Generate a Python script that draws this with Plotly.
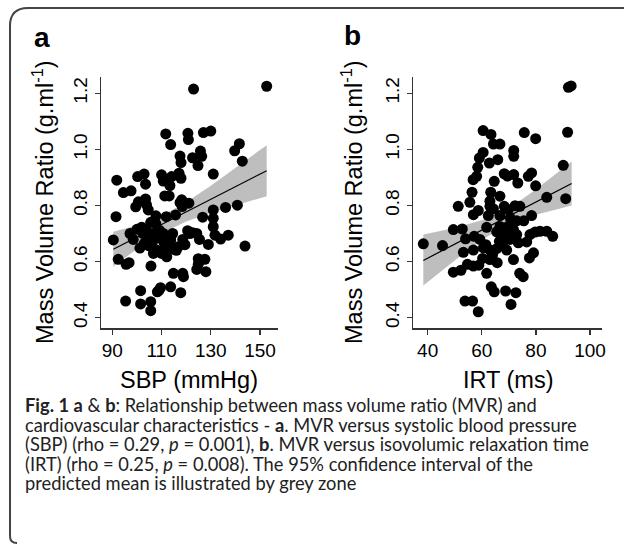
import plotly.graph_objects as go

# ---------------- data: panel a (SBP vs MVR) ----------------
sbp = [123.0, 152.7, 111.7, 120.7, 120.9, 127.0, 130.0, 113.7, 141.6, 139.7, 142.8,
       117.5, 117.9, 122.6, 125.8, 124.8, 126.3, 131.0,
       91.8, 100.3, 102.9, 103.5, 110.0, 110.7, 114.1, 113.4, 117.1, 117.9,
       94.5, 97.6,
       91.5, 99.5, 100.6, 103.5, 103.9, 104.6, 107.7,
       111.3, 113.1, 111.9, 115.7, 117.5, 118.4, 121.1, 118.2,
       126.7, 131.0, 131.0, 131.0, 131.7, 136.0, 140.8,
       90.4, 97.2, 98.5, 101.9, 103.9, 101.2, 104.9,
       105.6, 107.7, 109.1, 110.7, 112.1, 113.7, 108.0, 106.0,
       106.7, 108.0, 110.0, 111.4, 112.1, 112.8, 114.8, 116.8,
       118.6, 120.6, 122.6, 125.4, 124.3, 129.0, 134.0, 137.1, 143.9,
       92.4, 95.6, 96.8, 105.7, 114.8, 118.6, 118.9,
       124.9, 127.6, 124.9, 124.3, 128.0,
       95.4, 101.5, 101.5, 105.6, 105.6, 108.3, 109.6, 113.7, 117.8, 108.9,
       100.0, 102.5, 104.5, 107.0, 109.5, 111.0, 106.5, 103.0, 114.5, 119.5, 116.0, 121.5]
mvr_a = [1.215, 1.225, 1.055, 1.057, 1.035, 1.060, 1.065, 1.017, 1.020, 0.995, 0.958,
         0.976, 0.953, 0.970, 0.994, 0.942, 0.975, 0.912,
         0.890, 0.903, 0.912, 0.876, 0.909, 0.887, 0.903, 0.871, 0.915, 0.897,
         0.846, 0.852,
         0.760, 0.795, 0.813, 0.823, 0.802, 0.784, 0.763,
         0.834, 0.834, 0.760, 0.766, 0.810, 0.796, 0.808, 0.820,
         0.758, 0.784, 0.754, 0.724, 0.694, 0.793, 0.801,
         0.677, 0.700, 0.679, 0.722, 0.712, 0.648, 0.656,
         0.740, 0.734, 0.712, 0.700, 0.683, 0.677, 0.683, 0.671,
         0.629, 0.641, 0.629, 0.648, 0.617, 0.665, 0.644, 0.653,
         0.679, 0.710, 0.703, 0.679, 0.700, 0.661, 0.680, 0.694, 0.655,
         0.608, 0.590, 0.596, 0.584, 0.558, 0.558, 0.546,
         0.610, 0.608, 0.590, 0.572, 0.564,
         0.459, 0.496, 0.449, 0.457, 0.425, 0.492, 0.507, 0.510, 0.489, 0.497,
         0.715, 0.700, 0.690, 0.700, 0.690, 0.668, 0.650, 0.665, 0.700, 0.660, 0.640, 0.700]
# fitted line and 95% CI band (panel a)
band_a_x = [90.4, 100, 110, 120, 130, 140, 152.7]
fit_a = [0.644, 0.687, 0.732, 0.777, 0.822, 0.867, 0.924]
band_a_lo = [0.582, 0.645, 0.701, 0.743, 0.774, 0.801, 0.833]
band_a_hi = [0.706, 0.729, 0.763, 0.811, 0.870, 0.933, 1.015]

# ---------------- data: panel b (IRT vs MVR) ----------------
irt = [92.0, 93.0, 91.7, 90.1, 91.0, 84.0,
       60.5, 63.4, 64.3, 66.7, 60.5, 59.1, 62.8, 65.9, 58.5,
       71.8, 71.8, 75.7, 79.9,
       56.8, 58.1, 64.6, 68.3, 69.5, 71.8, 73.3, 77.2, 78.4, 79.9,
       56.4, 63.3, 66.7,
       51.3, 55.6, 56.9, 58.7, 63.0, 64.3, 62.4, 66.7, 68.3, 69.8, 72.3, 74.1, 78.4,
       63.0, 70.5, 72.9, 75.5,
       49.5, 52.8, 54.0, 57.2, 59.3, 61.8, 65.5, 67.4, 69.2, 71.7, 72.9, 70.4, 73.5,
       76.6, 77.8, 79.7, 81.5, 84.0, 86.2,
       38.4, 45.5, 53.2, 56.9, 60.6, 63.0, 65.5, 67.7, 69.2,
       60.3, 63.0, 65.7, 71.7, 77.6, 79.1, 61.5, 64.0, 66.5,
       49.5, 52.3, 54.7, 56.9, 58.9, 61.8,
       53.8, 56.6, 58.7, 63.5, 64.6, 68.8, 72.6, 70.8, 74.0, 75.3,
       69.8, 66.7]
mvr_b = [1.221, 1.226, 1.061, 0.943, 0.824, 0.829,
         1.067, 1.053, 1.019, 1.019, 0.989, 0.969, 0.951, 0.963, 0.936,
         0.996, 0.975, 1.060, 1.038,
         0.892, 0.904, 0.886, 0.913, 0.905, 0.910, 0.880, 0.904, 0.916, 0.870,
         0.847, 0.847, 0.833,
         0.797, 0.811, 0.767, 0.782, 0.815, 0.788, 0.764, 0.764, 0.797, 0.785, 0.799, 0.797, 0.764,
         0.797, 0.755, 0.745, 0.745,
         0.714, 0.716, 0.681, 0.690, 0.679, 0.722, 0.706, 0.684, 0.702, 0.714, 0.696, 0.679, 0.667,
         0.670, 0.696, 0.705, 0.708, 0.708, 0.690,
         0.663, 0.657, 0.633, 0.641, 0.649, 0.641, 0.646, 0.661, 0.641,
         0.611, 0.607, 0.596, 0.607, 0.613, 0.631, 0.660, 0.625, 0.672,
         0.562, 0.569, 0.590, 0.584, 0.587, 0.558,
         0.459, 0.459, 0.421, 0.510, 0.492, 0.495, 0.489, 0.447, 0.558, 0.546,
         0.726, 0.725]
band_b_x = [38.4, 50, 60, 70, 80, 93.2]
fit_b = [0.604, 0.662, 0.712, 0.762, 0.812, 0.878]
band_b_lo = [0.515, 0.604, 0.677, 0.735, 0.767, 0.800]
band_b_hi = [0.696, 0.720, 0.747, 0.789, 0.857, 0.957]

y_ticks = [0.4, 0.6, 0.8, 1.0, 1.2]
y_ticktext = ["0.4", "0.6", "0.8", "1.0", "1.2"]
x_ticks_a = [90, 110, 130, 150]
x_ticks_b = [40, 60, 80, 100]

caption_lines = [
    "<b>Fig. 1 a</b> &amp; <b>b</b>: Relationship between mass volume ratio (MVR) and",
    "cardiovascular characteristics - <b>a</b>. MVR versus systolic blood pressure",
    "(SBP) (rho = 0.29, <i>p</i> = 0.001), <b>b</b>. MVR versus isovolumic relaxation time",
    "(IRT) (rho = 0.25, <i>p</i> = 0.008). The 95% confidence interval of the",
    "predicted mean is illustrated by grey zone",
]

W, H = 625, 546


def px(x):
    return x / W


def py(y):
    return 1 - y / H


fig = go.Figure()


def add_panel(xs, ys, bx, fit, lo, hi, xa, ya):
    fig.add_trace(go.Scatter(x=bx + bx[::-1], y=hi + lo[::-1], fill="toself",
                             fillcolor="#BEBEBE", line=dict(width=0), mode="lines",
                             hoverinfo="skip", xaxis=xa, yaxis=ya, showlegend=False))
    fig.add_trace(go.Scatter(x=[bx[0], bx[-1]], y=[fit[0], fit[-1]], mode="lines",
                             line=dict(color="black", width=1.2), xaxis=xa, yaxis=ya,
                             showlegend=False))
    fig.add_trace(go.Scatter(x=xs, y=ys, mode="markers",
                             marker=dict(color="black", size=11, line=dict(width=0)),
                             xaxis=xa, yaxis=ya, showlegend=False))


add_panel(sbp, mvr_a, band_a_x, fit_a, band_a_lo, band_a_hi, "x", "y")
add_panel(irt, mvr_b, band_b_x, fit_b, band_b_lo, band_b_hi, "x2", "y2")

tickfont = dict(family="Liberation Sans, Arial, sans-serif", size=19, color="black")
common = dict(showline=True, linecolor="#333", linewidth=1.3, ticks="outside", ticklen=5,
              tickwidth=1.3, tickcolor="#333", showgrid=False, zeroline=False,
              tickfont=tickfont, fixedrange=True)
ydom = [py(328.3), py(76.7)]

fig.update_layout(
    width=W, height=H, margin=dict(l=0, r=0, t=0, b=0, autoexpand=False),
    paper_bgcolor="white", plot_bgcolor="white",
    xaxis=dict(domain=[px(101), px(278)], range=[85.4, 157.3], tickvals=x_ticks_a,
               anchor="y", **common),
    yaxis=dict(domain=ydom, range=[0.362, 1.259], tickvals=y_ticks, ticktext=y_ticktext,
               tickangle=-90, anchor="x", **common),
    xaxis2=dict(domain=[px(413.3), px(601.7)], range=[34.7, 104.3], tickvals=x_ticks_b,
                anchor="y2", **common),
    yaxis2=dict(domain=ydom, range=[0.362, 1.259], tickvals=y_ticks, ticktext=y_ticktext,
                tickangle=-90, anchor="x2", **common),
)

title_font = dict(family="Liberation Sans, Arial, sans-serif", size=23.5, color="black")
ann = []


def add_ann(x, y, text, font, **kw):
    d = dict(x=px(x), y=py(y), xref="paper", yref="paper", text=text, showarrow=False,
             xanchor="center", yanchor="middle", font=font)
    d.update(kw)
    ann.append(d)


label_font = dict(family="Liberation Sans, Arial, sans-serif", size=28, color="black")
add_ann(42, 38, "<b>a</b>", label_font)
add_ann(352, 36, "<b>b</b>", label_font)
add_ann(189, 380, "SBP (mmHg)", title_font)
add_ann(508, 380, "IRT (ms)", title_font)
add_ann(43, 202, "Mass Volume Ratio (g.ml<sup>-1</sup>)", title_font, textangle=-90)
add_ann(352, 202, "Mass Volume Ratio (g.ml<sup>-1</sup>)", title_font, textangle=-90)

cap_y = [405, 425, 444, 464, 483]
cap_font = dict(family="Lato, sans-serif", size=18.3, color="#222")
for line, yy in zip(caption_lines, cap_y):
    add_ann(23, yy, line, cap_font, xanchor="left")
fig.update_layout(annotations=ann)

path = (f"M {px(624)},{py(8)} L {px(28)},{py(8)} Q {px(10)},{py(8)} {px(10)},{py(26)} "
        f"L {px(10)},{py(536)} Q {px(10)},{py(543)} {px(17)},{py(543)}")
fig.add_shape(type="path", path=path, xref="paper", yref="paper",
              line=dict(color="#444", width=2))

fig.write_html("out.html", config={"displayModeBar": False, "staticPlot": True},
               post_script="document.body.style.margin='0';document.body.style.overflow='hidden';")
